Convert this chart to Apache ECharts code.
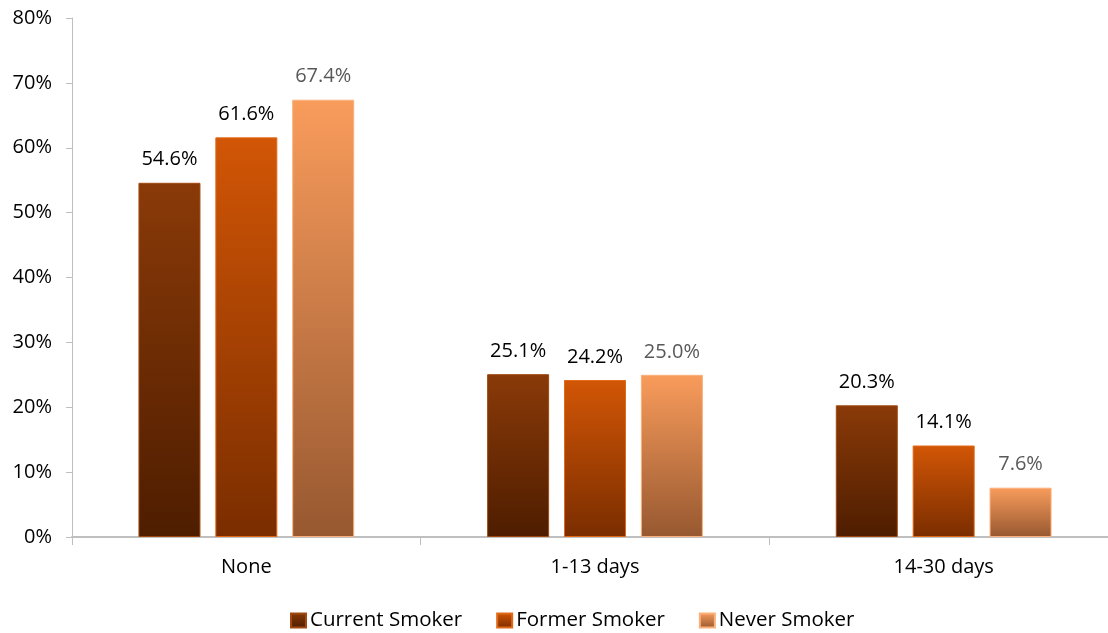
<!DOCTYPE html>
<html>
<head>
<meta charset="utf-8">
<script src="https://cdn.jsdelivr.net/npm/echarts@6/dist/echarts.min.js"></script>
<style>
  html, body { margin: 0; padding: 0; background: #fff; }
  #chart { width: 1108px; height: 633px; }
</style>
</head>
<body>
<div id="chart"></div>
<script>
// Days of poor health, by smoking status (percent of respondents)
const categories = ['None', '1-13 days', '14-30 days'];
const currentSmoker = [54.6, 25.1, 20.3];
const formerSmoker = [61.6, 24.2, 14.1];
const neverSmoker = [67.4, 25.0, 7.6];
const yTicks = [0, 10, 20, 30, 40, 50, 60, 70, 80];

const FONT = '"Open Sans", "Liberation Sans", sans-serif';

function grad(top, bottom) {
  return new echarts.graphic.LinearGradient(0, 0, 0, 1, [
    { offset: 0, color: top },
    { offset: 1, color: bottom }
  ]);
}

function makeSeries(name, data, top, bottom, border, labelColor) {
  return {
    name: name,
    type: 'bar',
    data: data,
    barWidth: 62,
    barGap: '24%',
    itemStyle: { color: grad(top, bottom), borderColor: border, borderWidth: 1 },
    label: {
      show: true,
      position: 'top',
      distance: 13,
      formatter: p => p.value.toFixed(1) + '%',
      color: labelColor,
      fontSize: 20,
      fontFamily: FONT
    }
  };
}

const chart = echarts.init(document.getElementById('chart'));
chart.setOption({
  animation: false,
  textStyle: { fontFamily: FONT },
  // the plot area runs slightly past the right edge of the canvas
  grid: { left: 72, width: 1046, top: 18, bottom: 96, outerBoundsMode: 'none' },
  legend: {
    top: 605,
    left: 285,
    itemWidth: 15,
    itemHeight: 14,
    itemGap: 34,
    icon: 'rect',
    textStyle: { fontSize: 20.5, color: '#000', fontFamily: FONT, padding: [0, 0, 0, -1] },
    data: ['Current Smoker', 'Former Smoker', 'Never Smoker']
  },
  xAxis: {
    type: 'category',
    data: categories,
    axisLine: { lineStyle: { color: '#bfbfbf', width: 2 } },
    axisTick: { show: true, length: 8, lineStyle: { color: '#bfbfbf', width: 1 } },
    axisLabel: { fontSize: 20, color: '#000', margin: 20, fontFamily: FONT }
  },
  yAxis: {
    type: 'value',
    min: 0,
    max: 80,
    interval: 10,
    axisLine: { show: true, lineStyle: { color: '#bfbfbf', width: 1 } },
    axisTick: { show: true, length: 6, lineStyle: { color: '#bfbfbf' } },
    splitLine: { show: false },
    axisLabel: {
      fontSize: 20,
      color: '#000',
      margin: 20,
      fontFamily: FONT,
      formatter: v => yTicks.includes(v) ? v + '%' : ''
    }
  },
  series: [
    makeSeries('Current Smoker', currentSmoker, '#8a3a08', '#4e1d00', '#a04a12', '#000'),
    makeSeries('Former Smoker', formerSmoker, '#d25606', '#7a2d00', '#e06a18', '#000'),
    makeSeries('Never Smoker', neverSmoker, '#f99c5c', '#975830', '#fbb07a', '#595959')
  ]
});
</script>
</body>
</html>
